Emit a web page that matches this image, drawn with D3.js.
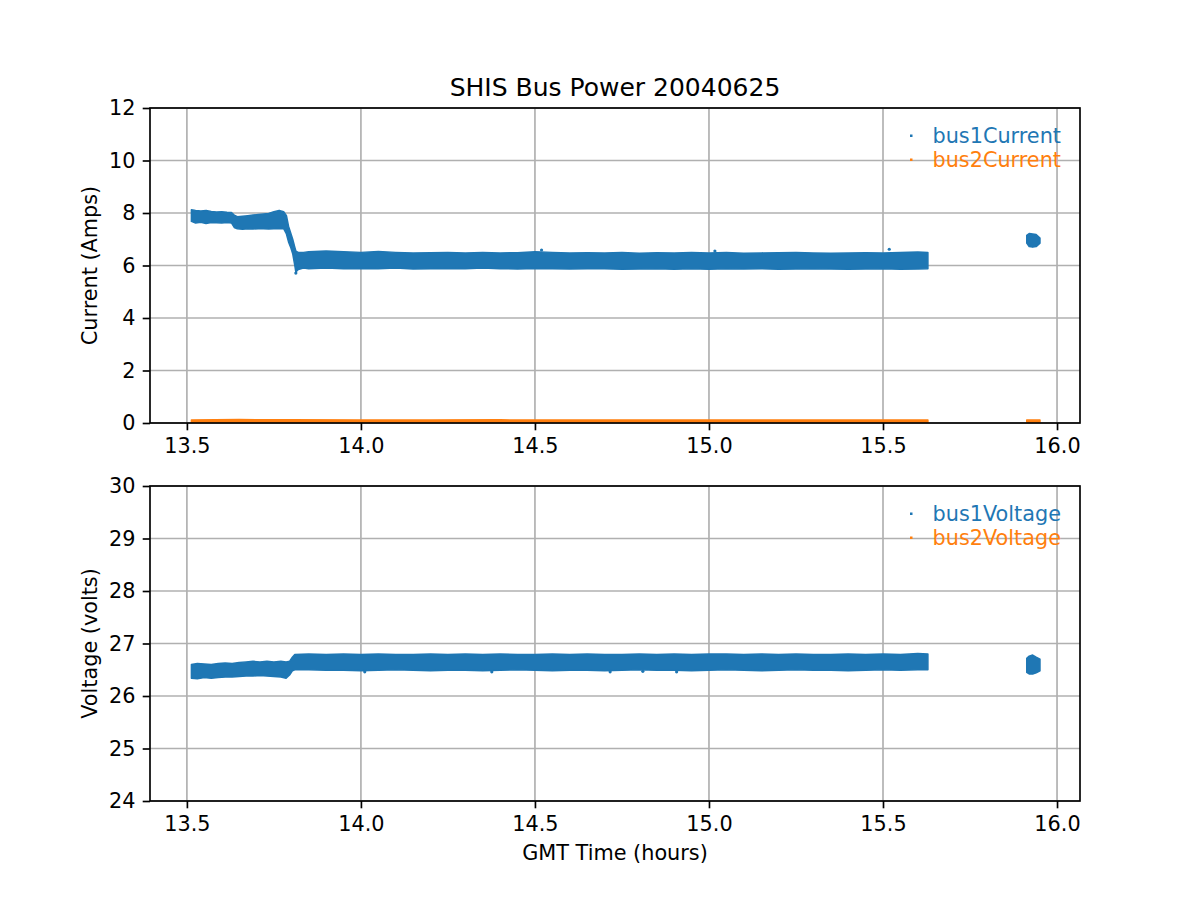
<!DOCTYPE html>
<html>
<head>
<meta charset="utf-8">
<script src="https://cdn.jsdelivr.net/npm/d3@7"></script>
<style>
html,body{margin:0;padding:0;background:#fff;}
svg text{font-family:"DejaVu Sans",sans-serif;}
</style>
</head>
<body>
<svg id="chart" width="1200" height="900"></svg>
<script>
// ---------------- DATA ----------------
const title = "SHIS Bus Power 20040625";
const xTicks = [13.5, 14.0, 14.5, 15.0, 15.5, 16.0];
const currentTicks = [0, 2, 4, 6, 8, 10, 12];
const voltageTicks = [24, 25, 26, 27, 28, 29, 30];

// bus1Current: envelope of the dense sample cloud (hours, amps)
const bus1CurrentTime = [13.513,13.525,13.54,13.555,13.57,13.585,13.60,13.615,13.628,13.636,13.645,13.66,13.675,13.69,13.705,13.72,13.735,13.75,13.765,13.778,13.786,13.792,13.798,13.804,13.810,13.813,13.82,13.835,13.85,13.9,13.95,14.0,14.05,14.1,14.15,14.2,14.25,14.3,14.35,14.4,14.45,14.5,14.55,14.6,14.65,14.7,14.75,14.8,14.85,14.9,14.95,15.0,15.05,15.1,15.15,15.2,15.25,15.3,15.35,15.4,15.45,15.5,15.55,15.6,15.629,
  15.913,15.92,15.93,15.94,15.951];
const bus1CurrentHi = [8.12,8.10,8.08,8.10,8.06,8.04,8.05,8.03,8.02,7.92,7.86,7.88,7.90,7.92,7.94,7.96,7.98,8.05,8.10,8.05,7.90,7.50,7.25,7.00,6.70,6.55,6.50,6.50,6.52,6.55,6.52,6.50,6.53,6.50,6.48,6.49,6.50,6.48,6.50,6.48,6.49,6.52,6.50,6.48,6.49,6.48,6.50,6.47,6.49,6.48,6.50,6.48,6.50,6.47,6.48,6.49,6.50,6.48,6.47,6.48,6.49,6.48,6.50,6.51,6.50,
  7.15,7.22,7.20,7.18,7.05];
const bus1CurrentLo = [7.68,7.62,7.65,7.60,7.64,7.63,7.62,7.64,7.62,7.45,7.40,7.38,7.40,7.39,7.40,7.40,7.39,7.40,7.41,7.40,7.20,6.90,6.70,6.45,6.00,5.75,5.85,5.90,5.88,5.90,5.88,5.89,5.88,5.90,5.87,5.88,5.89,5.88,5.90,5.88,5.87,5.89,5.88,5.87,5.88,5.88,5.86,5.87,5.88,5.86,5.88,5.86,5.88,5.87,5.88,5.86,5.87,5.88,5.87,5.86,5.87,5.88,5.86,5.87,5.88,
  6.85,6.72,6.70,6.72,6.85];
const bus1CurrentOutTime = [13.813, 14.519, 15.017, 15.518];
const bus1CurrentOutVal  = [5.71, 6.59, 6.55, 6.62];

// bus2Current: thin band near zero
const bus2CurrentTime = [13.513,13.65,13.8,14.0,14.2,14.4,14.6,14.8,15.0,15.2,15.4,15.629, 15.913,15.951];
const bus2CurrentHi = [0.11,0.13,0.12,0.11,0.11,0.12,0.11,0.11,0.11,0.11,0.11,0.11, 0.11,0.11];
const bus2CurrentLo = [0.03,0.03,0.03,0.03,0.03,0.03,0.03,0.03,0.03,0.03,0.03,0.03, 0.03,0.03];

// bus1Voltage envelope (hours, volts)
const bus1VoltageTime = [13.513,13.53,13.55,13.57,13.59,13.61,13.63,13.65,13.67,13.69,13.71,13.73,13.75,13.77,13.785,13.795,13.803,13.81,13.85,13.9,13.95,14.0,14.05,14.1,14.15,14.2,14.25,14.3,14.35,14.4,14.45,14.5,14.55,14.6,14.65,14.7,14.75,14.8,14.85,14.9,14.95,15.0,15.05,15.1,15.15,15.2,15.25,15.3,15.35,15.4,15.45,15.5,15.55,15.6,15.629,
  15.913,15.92,15.93,15.94,15.951];
const bus1VoltageHi = [26.60,26.62,26.61,26.60,26.62,26.63,26.62,26.64,26.65,26.66,26.65,26.66,26.65,26.66,26.65,26.66,26.74,26.79,26.80,26.79,26.80,26.79,26.80,26.79,26.79,26.80,26.79,26.80,26.79,26.80,26.79,26.79,26.80,26.79,26.80,26.79,26.79,26.80,26.79,26.80,26.79,26.80,26.80,26.79,26.80,26.79,26.80,26.79,26.79,26.80,26.79,26.80,26.79,26.81,26.80,
  26.72,26.76,26.78,26.74,26.70];
const bus1VoltageLo = [26.34,26.33,26.35,26.34,26.35,26.36,26.36,26.37,26.38,26.38,26.39,26.38,26.37,26.36,26.34,26.40,26.48,26.50,26.50,26.49,26.49,26.48,26.49,26.50,26.49,26.48,26.49,26.49,26.48,26.49,26.50,26.49,26.48,26.49,26.49,26.48,26.49,26.50,26.49,26.49,26.48,26.49,26.50,26.49,26.48,26.49,26.50,26.49,26.49,26.48,26.49,26.50,26.49,26.50,26.50,
  26.45,26.42,26.42,26.44,26.48];
const bus1VoltageOutTime = [14.011, 14.376, 14.716, 14.81, 14.907];
const bus1VoltageOutVal  = [26.46, 26.46, 26.46, 26.47, 26.46];

// bus2Voltage: reads ~0 V, below the visible 24-30 V range
const bus2VoltageTime = [13.513, 15.629, 15.913, 15.951];
const bus2VoltageVal  = [0.0, 0.0, 0.0, 0.0];

// ---------------- DRAWING ----------------
const BLUE = "#1f77b4", ORANGE = "#ff7f0e";
const FS = 20.8, LW = 1.67, TL = 7.3;
const GAP = 0.25; // hours without samples -> break the band
const svg = d3.select("#chart");
const left = 150, right = 1080;
const x = d3.scaleLinear().domain([13.394, 16.066]).range([left, right]);

function splitSegments(t, arrs) {
  const segs = []; let cur = [];
  for (let i = 0; i < t.length; i++) {
    if (i > 0 && t[i] - t[i-1] > GAP) { segs.push(cur); cur = []; }
    cur.push({t: t[i], v: arrs.map(a => a[i])});
  }
  segs.push(cur);
  return segs;
}

function panel(opts) {
  const top = opts.top, bottom = opts.bottom;
  const y = d3.scaleLinear().domain(opts.yDomain).range([bottom, top]);
  const g = svg.append("g");
  const clipId = "clip" + opts.id;
  svg.append("clipPath").attr("id", clipId).append("rect")
    .attr("x", left).attr("y", top).attr("width", right - left).attr("height", bottom - top);

  // grid
  const grid = g.append("g").attr("stroke", "#b0b0b0").attr("stroke-width", LW);
  xTicks.forEach(t => grid.append("line").attr("x1", x(t)).attr("x2", x(t)).attr("y1", top).attr("y2", bottom));
  opts.yTicks.forEach(t => grid.append("line").attr("x1", left).attr("x2", right).attr("y1", y(t)).attr("y2", y(t)));

  const data = g.append("g").attr("clip-path", `url(#${clipId})`);
  opts.bands.forEach(b => {
    const segs = splitSegments(b.time, [b.hi, b.lo]);
    const area = d3.area().x(d => x(d.t)).y0(d => y(d.v[1])).y1(d => y(d.v[0]));
    segs.forEach(s => {
      data.append("path").attr("d", area(s)).attr("fill", b.color)
        .attr("stroke", b.color).attr("stroke-width", 1.5).attr("stroke-linejoin", "round");
    });
    if (b.outTime) {
      b.outTime.forEach((t, i) => data.append("circle").attr("cx", x(t)).attr("cy", y(b.outVal[i])).attr("r", 1.6).attr("fill", b.color));
    }
  });
  (opts.points || []).forEach(p => {
    p.time.forEach((t, i) => data.append("circle").attr("cx", x(t)).attr("cy", y(p.val[i])).attr("r", 1.2).attr("fill", p.color));
  });

  // axes
  const xAxis = d3.axisBottom(x).tickValues(xTicks).tickFormat(d3.format(".1f")).tickSize(TL).tickPadding(TL);
  const yAxis = d3.axisLeft(y).tickValues(opts.yTicks).tickFormat(d3.format("d")).tickSize(TL).tickPadding(TL);
  const gx = g.append("g").attr("transform", `translate(0,${bottom})`).call(xAxis);
  const gy = g.append("g").attr("transform", `translate(${left},0)`).call(yAxis);
  [gx, gy].forEach(a => {
    a.attr("font-size", null).attr("font-family", null);
    a.select(".domain").remove();
    a.selectAll(".tick line").attr("stroke", "#000").attr("stroke-width", LW);
    a.selectAll(".tick text").style("font-size", FS + "px").attr("fill", "#000");
  });
  gx.selectAll(".tick text").attr("dy", "0.76em");

  // spines
  g.append("rect").attr("x", left).attr("y", top).attr("width", right - left).attr("height", bottom - top)
    .attr("fill", "none").attr("stroke", "#000").attr("stroke-width", LW);

  // y label
  g.append("text").attr("transform", `translate(${97},${(top + bottom) / 2}) rotate(-90)`)
    .attr("text-anchor", "middle").style("font-size", FS + "px").text(opts.ylabel);

  // legend
  opts.legend.forEach((l, i) => {
    const ly = top + 28 + i * 24;
    g.append("rect").attr("x", 910).attr("y", ly - 1.5).attr("width", 2.5).attr("height", 2.5).attr("fill", l.color);
    g.append("text").attr("x", 1061).attr("y", ly).attr("dy", "0.35em").attr("text-anchor", "end")
      .style("font-size", FS + "px").attr("fill", l.color).text(l.label);
  });
  return y;
}

panel({
  id: 1, top: 108, bottom: 423, yDomain: [0, 12], yTicks: currentTicks, ylabel: "Current (Amps)",
  bands: [
    {time: bus2CurrentTime, hi: bus2CurrentHi, lo: bus2CurrentLo, color: ORANGE},
    {time: bus1CurrentTime, hi: bus1CurrentHi, lo: bus1CurrentLo, color: BLUE, outTime: bus1CurrentOutTime, outVal: bus1CurrentOutVal}
  ],
  legend: [{label: "bus1Current", color: BLUE}, {label: "bus2Current", color: ORANGE}]
});

panel({
  id: 2, top: 486, bottom: 801, yDomain: [24, 30], yTicks: voltageTicks, ylabel: "Voltage (volts)",
  bands: [
    {time: bus1VoltageTime, hi: bus1VoltageHi, lo: bus1VoltageLo, color: BLUE, outTime: bus1VoltageOutTime, outVal: bus1VoltageOutVal}
  ],
  points: [{time: bus2VoltageTime, val: bus2VoltageVal, color: ORANGE}],
  legend: [{label: "bus1Voltage", color: BLUE}, {label: "bus2Voltage", color: ORANGE}]
});

svg.append("text").attr("x", 615).attr("y", 96).attr("text-anchor", "middle").style("font-size", "25px").text(title);
svg.append("text").attr("x", 615).attr("y", 860).attr("text-anchor", "middle").style("font-size", FS + "px").text("GMT Time (hours)");
</script>
</body>
</html>
